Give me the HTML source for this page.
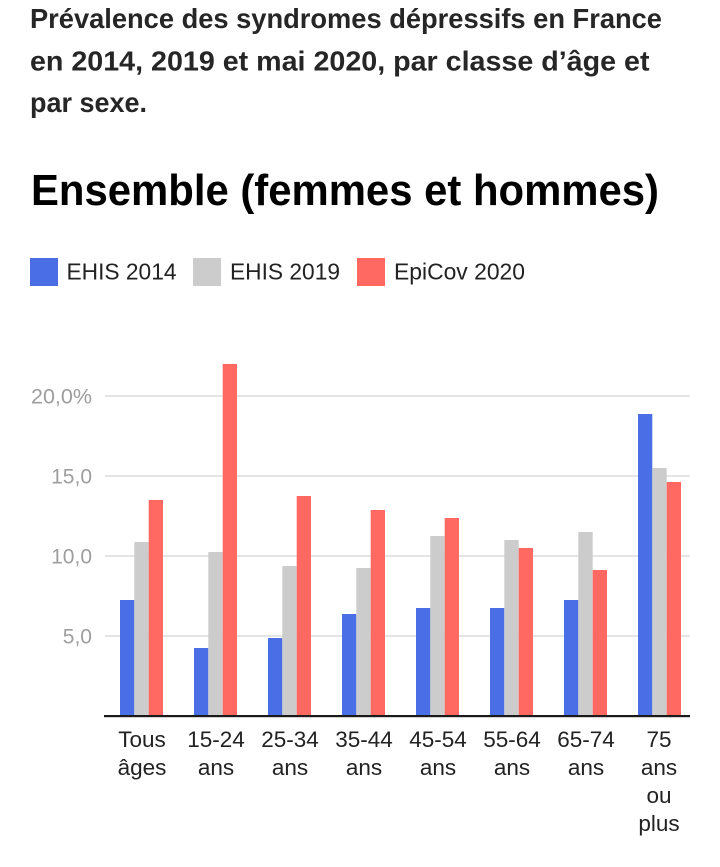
<!DOCTYPE html>
<html>
<head>
<meta charset="utf-8">
<style>
html,body{margin:0;padding:0;background:#fff;}
svg{display:block;}
text{font-family:"Liberation Sans",Arial,sans-serif;}
</style>
</head>
<body>
<svg width="720" height="867" viewBox="0 0 720 867" xmlns="http://www.w3.org/2000/svg">
  <rect x="0" y="0" width="720" height="867" fill="#ffffff"/>
  <!-- Title -->
  <g fill="#262626" font-weight="bold" font-size="26.5">
    <text x="30" y="28" textLength="632" lengthAdjust="spacingAndGlyphs" transform="translate(0,28) scale(1,1.04) translate(0,-28)">Prévalence des syndromes dépressifs en France</text>
    <text x="30" y="70.5" textLength="619.5" lengthAdjust="spacingAndGlyphs" transform="translate(0,70.5) scale(1,1.04) translate(0,-70.5)">en 2014, 2019 et mai 2020, par classe d’âge et</text>
    <text x="30" y="112" textLength="117" lengthAdjust="spacingAndGlyphs" transform="translate(0,112) scale(1,1.04) translate(0,-112)">par sexe.</text>
  </g>
  <!-- Heading -->
  <text x="31" y="205" font-size="44" font-weight="bold" fill="#000" textLength="628" lengthAdjust="spacingAndGlyphs">Ensemble (femmes et hommes)</text>
  <!-- Legend -->
  <rect x="30" y="258" width="28" height="28" fill="#4a6ee6"/>
  <text x="66.5" y="279.5" font-size="23" fill="#222" textLength="110" lengthAdjust="spacingAndGlyphs">EHIS 2014</text>
  <rect x="193" y="258" width="28" height="28" fill="#cccccc"/>
  <text x="230" y="279.5" font-size="23" fill="#222" textLength="110" lengthAdjust="spacingAndGlyphs">EHIS 2019</text>
  <rect x="357" y="258" width="28" height="28" fill="#ff6961"/>
  <text x="394" y="279.5" font-size="23" fill="#222" textLength="131" lengthAdjust="spacingAndGlyphs">EpiCov 2020</text>
  <!-- Gridlines -->
  <g fill="#e5e5e5">
    <rect x="105" y="395" width="585" height="2"/>
    <rect x="105" y="475" width="585" height="2"/>
    <rect x="105" y="555" width="585" height="2"/>
    <rect x="105" y="635" width="585" height="2"/>
  </g>
  <!-- Y labels -->
  <g fill="#9e9e9e" font-size="21" text-anchor="end">
    <text x="92" y="403.5" textLength="61" lengthAdjust="spacingAndGlyphs">20,0%</text>
    <text x="92" y="483.5">15,0</text>
    <text x="92" y="563.5">10,0</text>
    <text x="92" y="643.5">5,0</text>
  </g>
  <!-- Bars -->
  <g id="bars">
    <rect x="120" y="600" width="14.3" height="116" fill="#4a6ee6"/>
    <rect x="134.3" y="542" width="14.4" height="174" fill="#cccccc"/>
    <rect x="148.7" y="500" width="14.3" height="216" fill="#ff6961"/>
    <rect x="194" y="648" width="14.3" height="68" fill="#4a6ee6"/>
    <rect x="208.3" y="552" width="14.4" height="164" fill="#cccccc"/>
    <rect x="222.7" y="364" width="14.3" height="352" fill="#ff6961"/>
    <rect x="268" y="638" width="14.3" height="78" fill="#4a6ee6"/>
    <rect x="282.3" y="566" width="14.4" height="150" fill="#cccccc"/>
    <rect x="296.7" y="496" width="14.3" height="220" fill="#ff6961"/>
    <rect x="342" y="614" width="14.3" height="102" fill="#4a6ee6"/>
    <rect x="356.3" y="568" width="14.4" height="148" fill="#cccccc"/>
    <rect x="370.7" y="510" width="14.3" height="206" fill="#ff6961"/>
    <rect x="416" y="608" width="14.3" height="108" fill="#4a6ee6"/>
    <rect x="430.3" y="536" width="14.4" height="180" fill="#cccccc"/>
    <rect x="444.7" y="518" width="14.3" height="198" fill="#ff6961"/>
    <rect x="490" y="608" width="14.3" height="108" fill="#4a6ee6"/>
    <rect x="504.3" y="540" width="14.4" height="176" fill="#cccccc"/>
    <rect x="518.7" y="548" width="14.3" height="168" fill="#ff6961"/>
    <rect x="564" y="600" width="14.3" height="116" fill="#4a6ee6"/>
    <rect x="578.3" y="532" width="14.4" height="184" fill="#cccccc"/>
    <rect x="592.7" y="570" width="14.3" height="146" fill="#ff6961"/>
    <rect x="638" y="414" width="14.3" height="302" fill="#4a6ee6"/>
    <rect x="652.3" y="468" width="14.4" height="248" fill="#cccccc"/>
    <rect x="666.7" y="482" width="14.3" height="234" fill="#ff6961"/>
  </g>
  <!-- Axis -->
  <rect x="104" y="715" width="586" height="2.2" fill="#1a1a1a"/>
  <!-- X labels -->
  <g fill="#222" font-size="22.5" text-anchor="middle">
    <text x="142" y="747">Tous</text>
    <text x="142" y="775">âges</text>
    <text x="216" y="747">15-24</text>
    <text x="216" y="775">ans</text>
    <text x="290" y="747">25-34</text>
    <text x="290" y="775">ans</text>
    <text x="364" y="747">35-44</text>
    <text x="364" y="775">ans</text>
    <text x="438" y="747">45-54</text>
    <text x="438" y="775">ans</text>
    <text x="512" y="747">55-64</text>
    <text x="512" y="775">ans</text>
    <text x="586" y="747">65-74</text>
    <text x="586" y="775">ans</text>
    <text x="659" y="747">75</text>
    <text x="659" y="775">ans</text>
    <text x="659" y="803">ou</text>
    <text x="659" y="831">plus</text>
  </g>
</svg>
</body>
</html>
